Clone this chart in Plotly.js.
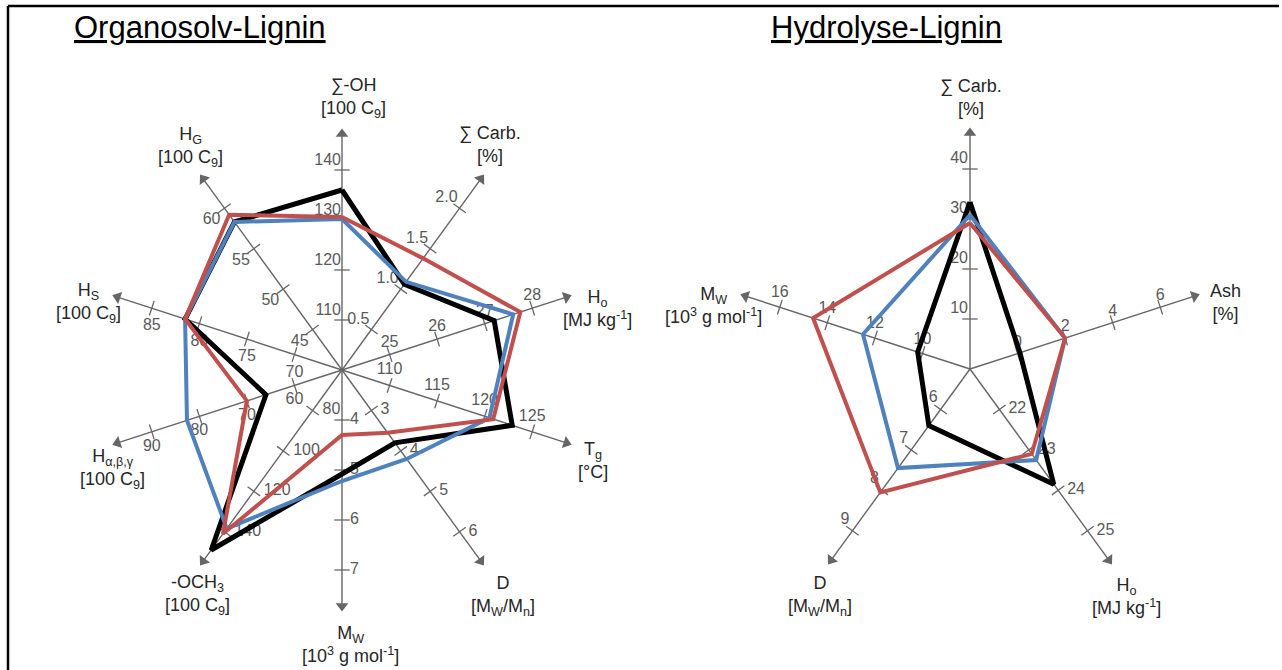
<!DOCTYPE html>
<html>
<head>
<meta charset="utf-8">
<script src="https://cdn.plot.ly/plotly-3.0.1.min.js"></script>
<style>
html, body { margin: 0; padding: 0; background: #ffffff; }
#chart { width: 1282px; height: 670px; }
</style>
</head>
<body>
<div id="chart"></div>
<script>
// ---------------- DATA: Organosolv-Lignin (left) ----------------
const leftAxisTitles = [
  '∑-OH<br>[100 C<sub>9</sub>]',
  '∑ Carb.<br>[%]',
  'H<sub>o</sub><br>[MJ kg<sup>-1</sup>]',
  'T<sub>g</sub><br>[°C]',
  'D<br>[M<sub>W</sub>/M<sub>n</sub>]',
  'M<sub>W</sub><br>[10<sup>3</sup> g mol<sup>-1</sup>]',
  '-OCH<sub>3</sub><br>[100 C<sub>9</sub>]',
  'H<sub>α,β,γ</sub><br>[100 C<sub>9</sub>]',
  'H<sub>S</sub><br>[100 C<sub>9</sub>]',
  'H<sub>G</sub><br>[100 C<sub>9</sub>]'
];
// value at the centre of each axis and value per tick interval
const leftBase = [100, 0, 24, 105, 2, 3, 60, 50, 65, 40];
const leftStep = [10, 0.5, 1, 5, 1, 1, 20, 10, 5, 5];
const leftTickLabels = [
  ['110', '120', '130', '140'],
  ['0.5', '1.0', '1.5', '2.0'],
  ['25', '26', '27', '28'],
  ['110', '115', '120', '125'],
  ['3', '4', '5', '6'],
  ['4', '5', '6', '7'],
  ['80', '100', '120', '140'],
  ['60', '70', '80', '90'],
  ['70', '75', '80', '85'],
  ['45', '50', '55', '60']
];
const leftBlack = [136, 1.06, 27.2, 122.9, 3.8, 5.08, 149, 66, 81.5, 58.3];
const leftBlue  = [130.2, 1.09, 27.6, 120.5, 4.2, 5.22, 138.4, 82.6, 81.5, 58.3];
const leftRed   = [130.6, 1.38, 27.75, 120.9, 3.55, 4.3, 141, 70, 81.5, 59.2];

// ---------------- DATA: Hydrolyse-Lignin (right) ----------------
const rightAxisTitles = [
  '∑ Carb.<br>[%]',
  'Ash<br>[%]',
  'H<sub>o</sub><br>[MJ kg<sup>-1</sup>]',
  'D<br>[M<sub>W</sub>/M<sub>n</sub>]',
  'M<sub>W</sub><br>[10<sup>3</sup> g mol<sup>-1</sup>]'
];
const rightBase = [0, -2, 21, 5, 8];
const rightStep = [10, 2, 1, 1, 2];
const rightTickLabels = [
  ['10', '20', '30', '40'],
  ['0', '2', '4', '6'],
  ['22', '23', '24', '25'],
  ['6', '7', '8', '9'],
  ['10', '12', '14', '16']
];
const rightBlack = [33.4, 0.1, 23.85, 6.4, 10.2];
const rightBlue  = [30.8, 2.0, 23.25, 7.45, 12.5];
const rightRed   = [29.2, 2.0, 23.1, 8.05, 14.6];

const chartTitles = ['Organosolv-Lignin', 'Hydrolyse-Lignin'];

// ---------------- LAYOUT / STYLE ----------------
const W = 1282, H = 670;
const FONT = 'Liberation Sans, Arial, sans-serif';
const AXIS_COLOR = '#666666';
const LABEL_COLOR = '#595959';
const TITLE_COLOR = '#262626';
const RMAX = 4.9, ARROW_R = 4.72, PX_PER_UNIT = 50;
const BLACK = '#000000', BLUE = '#4F81BD', RED = '#C0504D';

const leftAngles = [90, 54, 18, -18, -54, -90, -126, -162, 162, 126];
const leftLabelPos = ['top left', 'top left', 'top center', 'top center', 'middle right',
                      'middle right', 'middle right', 'bottom center', 'bottom center', 'bottom left'];
const leftLabelGap = [1, 2, 4, 7, 9, 8, 10, 7, 10, 4];
const leftTitlePos = [[354, 98], [490, 145], [597, 308], [593, 460], [503, 596],
                      [350, 644], [197, 595], [112, 469], [88, 303], [190, 147]];

const rightAngles = [90, 18, -54, -126, 162];
const rightLabelPos = ['top left', 'top center', 'middle right', 'top left', 'top center'];
const rightLabelGap = [2, 3, 9, 3, 6];
const rightTitlePos = [[971, 97], [1225, 302], [1126, 596], [820, 596], [713, 305]];

// marker size giving a text gap of g px (plotly offsets text by radius/0.8 + 1)
function gapToSize(g) { return g <= 0 ? 0 : Math.max(0.01, 1.6 * (g - 1)); }

function buildRadar(sub, angles, base, step, tickLabels, labelPos, labelGap, series) {
  const traces = [];
  const common = { type: 'scatterpolar', subplot: sub, hoverinfo: 'skip', showlegend: false };
  angles.forEach(a => {
    traces.push(Object.assign({}, common, {
      r: [0, ARROW_R], theta: [a, a], mode: 'lines',
      line: { color: AXIS_COLOR, width: 1.4 }
    }));
  });
  traces.push(Object.assign({}, common, {
    r: angles.map(() => ARROW_R), theta: angles, mode: 'markers',
    marker: { symbol: 'triangle-up', size: 11, color: AXIS_COLOR, angle: angles.map(a => 90 - a),
              line: { width: 0 } }
  }));
  const tr = [], tt = [], ta = [], tx = [], tp = [], ts = [];
  tickLabels.forEach((labels, i) => {
    labels.forEach(l => {
      tr.push((parseFloat(l) - base[i]) / step[i]);
      tt.push(angles[i]);
      ta.push(-angles[i]);
      tx.push(l);
      tp.push(labelPos[i]);
      ts.push(gapToSize(labelGap[i]));
    });
  });
  traces.push(Object.assign({}, common, {
    r: tr, theta: tt, mode: 'markers',
    marker: { symbol: 'line-ns', size: 11, angle: ta, color: AXIS_COLOR,
              line: { color: AXIS_COLOR, width: 1.3 } }
  }));
  traces.push(Object.assign({}, common, {
    r: tr, theta: tt, mode: 'markers+text', text: tx, textposition: tp,
    marker: { size: ts, color: 'rgba(0,0,0,0)', line: { width: 0 } },
    textfont: { family: FONT, size: 16, color: LABEL_COLOR }
  }));
  series.forEach(s => {
    const r = s.values.map((v, i) => (v - base[i]) / step[i]);
    traces.push(Object.assign({}, common, {
      r: r.concat([r[0]]), theta: angles.concat([angles[0]]), mode: 'lines',
      line: { color: s.color, width: s.width }
    }));
  });
  return traces;
}

const traces = [].concat(
  buildRadar('polar', leftAngles, leftBase, leftStep, leftTickLabels, leftLabelPos, leftLabelGap, [
    { values: leftBlack, color: BLACK, width: 5 },
    { values: leftBlue, color: BLUE, width: 4 },
    { values: leftRed, color: RED, width: 4 }
  ]),
  buildRadar('polar2', rightAngles, rightBase, rightStep, rightTickLabels, rightLabelPos, rightLabelGap, [
    { values: rightBlack, color: BLACK, width: 5 },
    { values: rightBlue, color: BLUE, width: 4 },
    { values: rightRed, color: RED, width: 4 }
  ])
);

function polarLayout(cx, cy) {
  const R = RMAX * PX_PER_UNIT;
  return {
    domain: { x: [(cx - R) / W, (cx + R) / W], y: [1 - (cy + R) / H, 1 - (cy - R) / H] },
    bgcolor: 'rgba(0,0,0,0)',
    radialaxis: { visible: false, range: [0, RMAX], showgrid: false, showline: false,
                  showticklabels: false, ticks: '' },
    angularaxis: { visible: false, showgrid: false, showline: false, showticklabels: false,
                   ticks: '', rotation: 0, direction: 'counterclockwise' }
  };
}

const annotations = [];
function addTitles(titles, pos) {
  titles.forEach((t, i) => {
    annotations.push({
      xref: 'paper', yref: 'paper', x: pos[i][0] / W, y: 1 - pos[i][1] / H,
      xanchor: 'center', yanchor: 'middle', showarrow: false, text: t, align: 'center',
      font: { family: FONT, size: 18, color: TITLE_COLOR }
    });
  });
}
addTitles(leftAxisTitles, leftTitlePos);
addTitles(rightAxisTitles, rightTitlePos);
[[200, 28], [886, 28]].forEach((p, i) => {
  annotations.push({
    xref: 'paper', yref: 'paper', x: p[0] / W, y: 1 - p[1] / H,
    xanchor: 'center', yanchor: 'middle', showarrow: false,
    text: '<u>' + chartTitles[i] + '</u>',
    font: { family: FONT, size: 31, color: '#000000' }
  });
});

const frame = { type: 'line', xref: 'paper', yref: 'paper', line: { color: '#000000', width: 2.5 } };
const shapes = [
  Object.assign({}, frame, { x0: 8 / W, x1: 1279 / W, y0: 1 - 6 / H, y1: 1 - 6 / H }),
  Object.assign({}, frame, { x0: 8 / W, x1: 8 / W, y0: 1 - 6 / H, y1: 0 })
];

const layout = {
  width: W, height: H,
  margin: { l: 0, r: 0, t: 0, b: 0 },
  paper_bgcolor: '#ffffff',
  showlegend: false,
  polar: polarLayout(342, 370),
  polar2: polarLayout(970, 369),
  annotations: annotations,
  shapes: shapes
};

Plotly.newPlot('chart', traces, layout, { displayModeBar: false, staticPlot: true });
</script>
</body>
</html>
